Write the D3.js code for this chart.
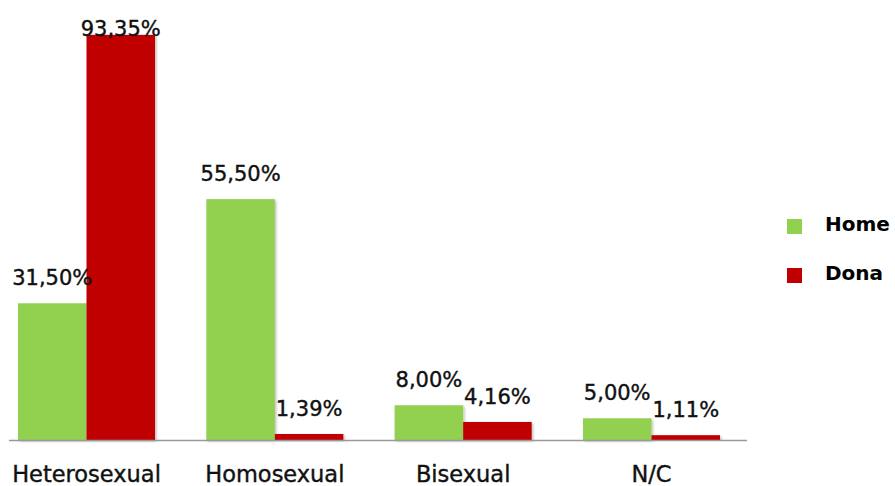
<!DOCTYPE html>
<html><head><meta charset="utf-8">
<script src="https://cdn.jsdelivr.net/npm/d3@7"></script>
<style>html,body{margin:0;padding:0;background:#fff;}svg{display:block;}</style>
</head><body>
<svg id="chart" width="895" height="486"></svg>
<script>
const categories = ["Heterosexual", "Homosexual", "Bisexual", "N/C"];
const seriesNames = ["Home", "Dona"];
const homeValues = [31.50, 55.50, 8.00, 5.00];
const donaValues = [93.35, 1.39, 4.16, 1.11];
const colors = ["#92D050", "#C00000"];

const svg = d3.select("#chart");
const font = "'DejaVu Sans', sans-serif";

const x0 = d3.scaleBand().domain(categories).range([18, 720]).paddingInner(0.2724).paddingOuter(0);
const x1 = d3.scaleBand().domain(seriesNames).range([0, x0.bandwidth()]);
const y = d3.scaleLinear().domain([0, 100]).range([440, 6]);
const color = d3.scaleOrdinal().domain(seriesNames).range(colors);

const data = categories.map((c, i) => ({cat: c, vals: [
  {s: "Home", v: homeValues[i]}, {s: "Dona", v: donaValues[i]}]}));

const defs = svg.append("defs");
const f = defs.append("filter").attr("id", "sh").attr("x", "-10%").attr("y", "-10%").attr("width", "130%").attr("height", "130%");
f.append("feDropShadow").attr("dx", 1.5).attr("dy", 1.5).attr("stdDeviation", 1.2).attr("flood-color", "#000").attr("flood-opacity", 0.25);

const g = svg.append("g").selectAll("g").data(data).join("g")
  .attr("transform", d => `translate(${x0(d.cat)},0)`);

g.selectAll("rect").data(d => d.vals).join("rect")
  .attr("x", d => x1(d.s))
  .attr("y", d => y(d.v))
  .attr("width", x1.bandwidth())
  .attr("height", d => y(0) - y(d.v))
  .attr("fill", d => color(d.s))
  .attr("filter", "url(#sh)");

g.selectAll("text").data(d => d.vals).join("text")
  .attr("x", d => x1(d.s) + x1.bandwidth() / 2)
  .attr("y", d => Math.max(y(d.v) - 18, 36))
  .attr("text-anchor", "middle")
  .attr("font-family", font)
  .attr("font-size", 21)
  .attr("fill", "#111")
  .attr("stroke", "#111").attr("stroke-width", 0.4)
  .text(d => d.v.toFixed(2).replace(".", ",") + "%");

// axis baseline
const xAxis = d3.axisBottom(x0).tickSize(0).tickPadding(0);
const ax = svg.append("g").attr("transform", `translate(0,${y(0)})`).call(xAxis);
ax.select(".domain").attr("d", "M9,0.5H747").attr("stroke", "#999").attr("stroke-width", 1.5);
ax.selectAll(".tick text")
  .attr("y", 42)
  .attr("dy", 0)
  .attr("font-family", font)
  .attr("font-size", 22.5)
  .attr("fill", "#111")
  .attr("stroke", "#111").attr("stroke-width", 0.4);

// legend
const leg = svg.append("g").selectAll("g").data(seriesNames).join("g")
  .attr("transform", (d, i) => `translate(787,${219 + i * 49})`);
leg.append("rect").attr("width", 15).attr("height", 15).attr("fill", d => color(d));
leg.append("text").attr("x", 38).attr("y", 12)
  .attr("font-family", font).attr("font-weight", "bold").attr("font-size", 20)
  .attr("fill", "#000").text(d => d);
</script>
</body></html>
